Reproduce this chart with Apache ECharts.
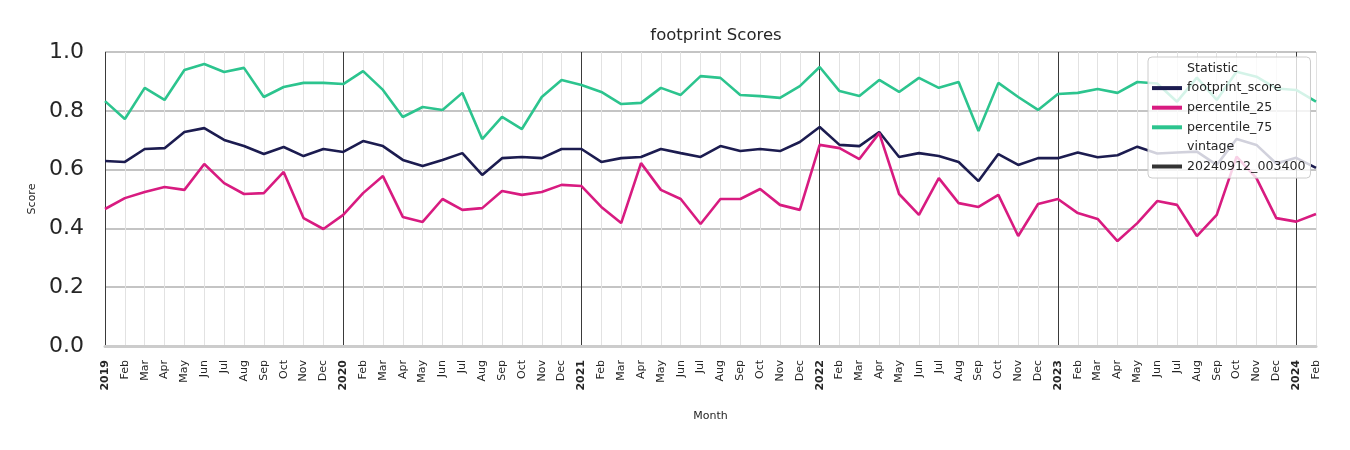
<!DOCTYPE html>
<html>
<head>
<meta charset="utf-8">
<script src="https://cdn.jsdelivr.net/npm/echarts@6/dist/echarts.min.js"></script>
<style>html,body{margin:0;padding:0;background:#fff;}#c{width:1350px;height:450px;}</style>
</head>
<body>
<div id="c"></div>
<script>
const months = ['Jan','Feb','Mar','Apr','May','Jun','Jul','Aug','Sep','Oct','Nov','Dec'];
const years = [2019, 2020, 2021, 2022, 2023, 2024];
const monthCount = 62;
const categories = [];
for (let i = 0; i < monthCount; i++) {
  const y = years[0] + Math.floor(i / 12);
  const m = i % 12;
  categories.push(m === 0 ? String(y) : months[m]);
}
const footprintScore = [0.629,0.626,0.670,0.673,0.728,0.741,0.701,0.680,0.653,0.677,0.646,0.670,
  0.660,0.697,0.680,0.633,0.612,0.633,0.656,0.582,0.639,0.643,0.639,0.670,
  0.670,0.626,0.639,0.643,0.670,0.656,0.643,0.680,0.663,0.670,0.663,0.694,
  0.745,0.684,0.680,0.728,0.643,0.656,0.646,0.626,0.561,0.653,0.616,0.639,
  0.639,0.658,0.642,0.649,0.678,0.655,0.658,0.661,0.616,0.704,0.684,0.621,
  0.640,0.606];
const percentile25 = [0.466,0.503,0.524,0.541,0.531,0.619,0.554,0.517,0.520,0.592,0.435,0.398,
  0.446,0.520,0.578,0.439,0.422,0.500,0.463,0.469,0.527,0.514,0.524,0.548,
  0.544,0.473,0.418,0.622,0.531,0.500,0.415,0.500,0.500,0.534,0.480,0.463,
  0.684,0.673,0.636,0.724,0.517,0.446,0.571,0.486,0.473,0.514,0.374,0.483,
  0.500,0.452,0.432,0.357,0.418,0.493,0.480,0.374,0.446,0.644,0.571,0.435,
  0.423,0.449];
const percentile75 = [0.833,0.772,0.878,0.837,0.939,0.959,0.932,0.946,0.847,0.881,0.895,0.895,
  0.891,0.935,0.871,0.779,0.813,0.803,0.861,0.704,0.779,0.738,0.847,0.905,
  0.888,0.864,0.823,0.827,0.878,0.854,0.918,0.912,0.854,0.850,0.844,0.884,
  0.949,0.867,0.850,0.905,0.864,0.912,0.878,0.898,0.731,0.895,0.847,0.803,
  0.857,0.861,0.874,0.861,0.898,0.893,0.831,0.913,0.837,0.933,0.916,0.876,
  0.871,0.831];
const yTicks = [0, 0.2, 0.4, 0.6, 0.8, 1.0];

const splitColors = [];
for (let i = 0; i < 12; i++) splitColors.push(i === 0 ? '#3a3a3a' : '#e2e2e2');

const chart = echarts.init(document.getElementById('c'));
const lineSeries = (name, data, color) => ({
  name, type: 'line', data, symbol: 'none', showSymbol: false,
  lineStyle: { color, width: 2.6 }, itemStyle: { color }, z: 3
});
const dummy = (name, color, opacity) => ({
  name, type: 'line', data: [], symbol: 'none',
  lineStyle: { color, width: 3, opacity }, itemStyle: { color, opacity }
});
chart.setOption({
  animation: false,
  backgroundColor: '#fff',
  title: {
    text: 'footprint Scores', left: 711, top: 22, textAlign: 'center',
    textStyle: { fontFamily: 'DejaVu Sans', fontSize: 16.5, fontWeight: 'normal', color: '#262626' }
  },
  grid: { left: 105, right: 34, top: 52, bottom: 104, containLabel: false },
  legend: {
    orient: 'vertical', left: 1148, top: 57,
    backgroundColor: 'rgba(255,255,255,0.8)', borderColor: '#cccccc', borderWidth: 1, borderRadius: 4,
    padding: [5, 5, 5, 4], itemWidth: 30, itemHeight: 4, itemGap: 6.6,
    icon: 'path://M0,0 L30,0 L30,4 L0,4 Z',
    textStyle: { fontFamily: 'DejaVu Sans', fontSize: 12.6, color: '#262626' },
    data: ['Statistic','footprint_score','percentile_25','percentile_75','vintage','20240912_003400']
  },
  xAxis: {
    type: 'category', data: categories, boundaryGap: false,
    name: 'Month', nameLocation: 'middle', nameGap: 65,
    nameTextStyle: { fontFamily: 'DejaVu Sans', fontSize: 11, color: '#262626' },
    axisLine: { show: true, lineStyle: { color: '#cccccc', width: 3 } },
    axisTick: { show: false },
    axisLabel: {
      interval: 0, rotate: 90, margin: 14, fontFamily: 'DejaVu Sans', fontSize: 11, color: '#262626',
      formatter: (v) => /^\d{4}$/.test(v) ? '{b|' + v + '}' : v,
      rich: { b: { fontWeight: 'bold', fontFamily: 'DejaVu Sans', fontSize: 11, color: '#262626' } }
    },
    splitLine: { show: true, interval: 0, lineStyle: { color: splitColors, width: 1 } }
  },
  yAxis: {
    type: 'value', min: yTicks[0], max: yTicks[yTicks.length - 1], interval: 0.2,
    name: 'Score', nameLocation: 'middle', nameGap: 66, nameRotate: 90,
    nameTextStyle: { fontFamily: 'DejaVu Sans', fontSize: 11, color: '#262626' },
    axisLine: { show: false }, axisTick: { show: false },
    axisLabel: { fontFamily: 'DejaVu Sans', fontSize: 22, color: '#262626', margin: 21,
      formatter: (v) => v.toFixed(1) },
    splitLine: { show: true, lineStyle: { color: '#c4c4c4', width: 2 } }
  },
  series: [
    dummy('Statistic', '#ffffff', 0),
    lineSeries('footprint_score', footprintScore, '#1c1c50'),
    lineSeries('percentile_25', percentile25, '#d81b80'),
    lineSeries('percentile_75', percentile75, '#2cc48e'),
    dummy('vintage', '#ffffff', 0),
    dummy('20240912_003400', '#333333', 1)
  ]
});
</script>
</body>
</html>
